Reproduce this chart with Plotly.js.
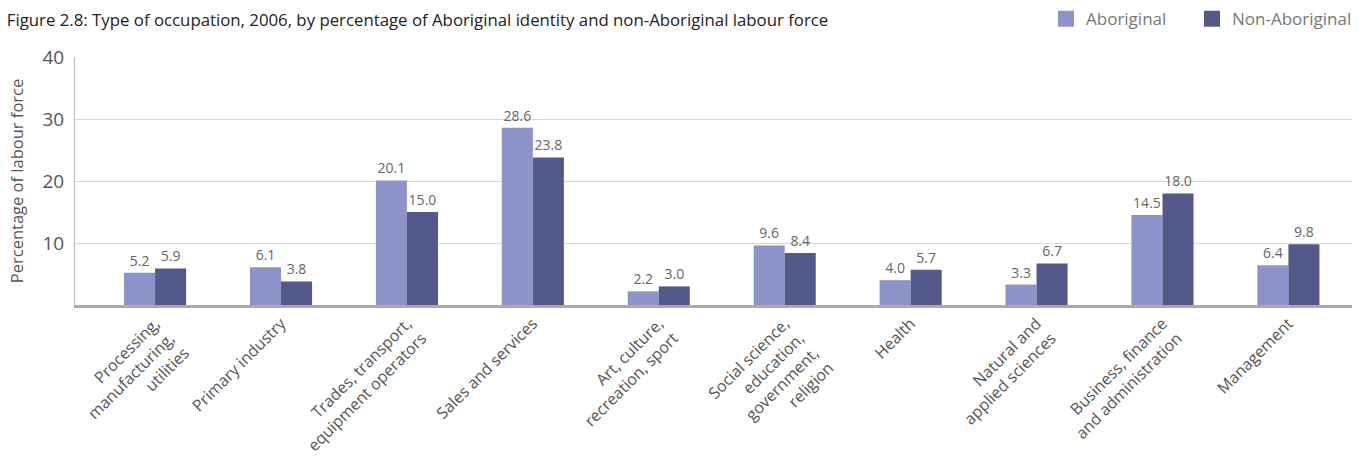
<!DOCTYPE html>
<html>
<head>
<meta charset="utf-8">
<script src="https://cdn.plot.ly/plotly-3.0.1.min.js"></script>
<style>html,body{margin:0;padding:0;background:#fff;}#chart{width:1364px;height:459px;}</style>
</head>
<body>
<div id="chart"></div>
<script>
const categories = [
  "Processing,<br>manufacturing,<br>utilities",
  "Primary industry",
  "Trades, transport,<br>equipment operators",
  "Sales and services",
  "Art, culture,<br>recreation, sport",
  "Social science,<br>education,<br>government,<br>religion",
  "Health",
  "Natural and<br>applied sciences",
  "Business, finance<br>and administration",
  "Management"
];
const aboriginal = [5.2, 6.1, 20.1, 28.6, 2.2, 9.6, 4.0, 3.3, 14.5, 6.4];
const nonAboriginal = [5.9, 3.8, 15.0, 23.8, 3.0, 8.4, 5.7, 6.7, 18.0, 9.8];
const seriesNames = ["Aboriginal", "Non-Aboriginal"];
const seriesColors = ["#8c93c8", "#535a8a"];
const yTicks = [10, 20, 30, 40];

const font = "Open Sans, Liberation Sans, sans-serif";
const series = [aboriginal, nonAboriginal];
const traces = series.map((vals, i) => ({
  type:"bar", name:seriesNames[i], x:categories, y:vals, showlegend:false,
  marker:{color:seriesColors[i]}, text:vals.map(v=>v.toFixed(1)), textposition:"outside",
  textfont:{size:14, color:"#666", family:font}, cliponaxis:false
}));
const legendIds = ["legend", "legend2"];
seriesNames.forEach((n, i) => traces.push({
  type:"scatter", mode:"markers", name:n, x:[null], y:[null], showlegend:true, legend:legendIds[i],
  marker:{symbol:"square", size:16, color:seriesColors[i]}
}));
const legendBase = {orientation:"h", xref:"container", yref:"container", xanchor:"left", y:0.958, yanchor:"middle",
  font:{size:17, color:"#777", family:font}, itemwidth:30, bgcolor:"rgba(0,0,0,0)"};
const layout = {
  width:1364, height:459,
  margin:{l:75, r:12, t:57, b:154},
  paper_bgcolor:"#fff", plot_bgcolor:"#fff",
  font:{family:font, color:"#555"},
  title:{text:"Figure 2.8: Type of occupation, 2006, by percentage of Aboriginal identity and non-Aboriginal labour force",
         x:0.005, xanchor:"left", y:0.957, yanchor:"middle", font:{size:16.8, color:"#222", family:font}},
  barmode:"group", bargap:0.507, bargroupgap:0,
  showlegend:true,
  legend:Object.assign({}, legendBase, {x:1046/1364}),
  legend2:Object.assign({}, legendBase, {x:1192/1364}),
  xaxis:{type:"category", range:[-0.636, 9.505], tickangle:-45, showline:true, linecolor:"#aaa", linewidth:3,
         ticks:"", tickfont:{size:16, color:"#555", family:font}, showgrid:false, automargin:false},
  yaxis:{range:[0,40], tickvals:yTicks, ticktext:yTicks.map(String), showgrid:true, gridcolor:"#d9d9d9", gridwidth:1,
         showline:true, linecolor:"#bbb", linewidth:1, ticks:"", zeroline:false, ticklabelstandoff:6,
         tickfont:{size:19, color:"#555", family:font}, automargin:false,
         title:{text:"Percentage of labour force", font:{size:16.5, color:"#555", family:font}, standoff:14}}
};
Plotly.newPlot("chart", traces, layout, {displayModeBar:false, staticPlot:true});
</script>
</body>
</html>
